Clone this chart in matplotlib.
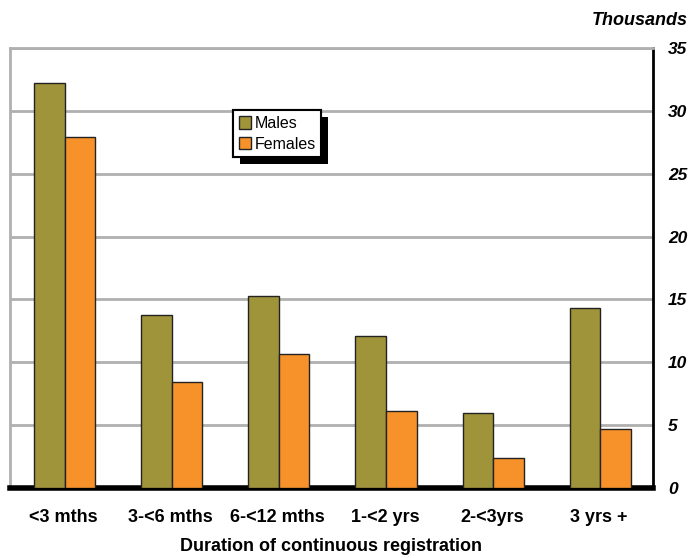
import numpy as np
import matplotlib.pyplot as plt
import matplotlib.patheffects as pe

plt.rcParams['font.family'] = ['Liberation Sans', 'DejaVu Sans']

# data (thousands)
categories = ['<3 mths', '3-<6 mths', '6-<12 mths', '1-<2 yrs', '2-<3yrs', '3 yrs +']
males = [32.2, 13.8, 15.3, 12.1, 6.0, 14.3]
females = [27.9, 8.4, 10.7, 6.1, 2.4, 4.7]
yticks = [0, 5, 10, 15, 20, 25, 30, 35]

fig = plt.figure(figsize=(6.9, 5.58), dpi=100)
ax = fig.add_axes([0.0145, 0.1254, 0.9315, 0.7886])

x = np.arange(len(categories))
w = 0.285
ax.bar(x - w / 2 + 0.01, males, w, color='#A0943A', edgecolor='#222222', linewidth=1, label='Males', zorder=3)
ax.bar(x + w / 2 + 0.01, females, w, color='#F7922A', edgecolor='#222222', linewidth=1, label='Females', zorder=3)

ax.set_xlim(-0.5, len(categories) - 0.5)
ax.set_ylim(0, 35)
ax.set_yticks(yticks)
ax.yaxis.tick_right()
ax.grid(axis='y', color='#b0b0b0', linewidth=2, zorder=0)
ax.tick_params(axis='y', length=0, pad=11)
ax.tick_params(axis='x', length=0, pad=15)
ax.set_xticks(x)
ax.set_xticklabels(categories, fontsize=13, fontweight='bold')
for lab in ax.get_yticklabels():
    lab.set_fontsize(12.5)
    lab.set_fontweight('bold')
    lab.set_fontstyle('italic')

ax.spines['left'].set_color('#b0b0b0')
ax.spines['left'].set_linewidth(2)
ax.spines['top'].set_color('#b0b0b0')
ax.spines['top'].set_linewidth(2)
ax.spines['right'].set_color('black')
ax.spines['right'].set_linewidth(2)
ax.spines['bottom'].set_color('black')
ax.spines['bottom'].set_linewidth(4)

ax.set_xlabel('Duration of continuous registration', fontsize=13, fontweight='bold', labelpad=9)
fig.text(0.997, 0.963, 'Thousands', ha='right', va='center', fontsize=13,
         fontweight='bold', fontstyle='italic')

leg = ax.legend(loc='upper left', bbox_to_anchor=(0.347, 0.858), fontsize=11.5,
                frameon=True, fancybox=False, edgecolor='black', handlelength=0.8,
                handleheight=0.8, handletextpad=0.2, borderpad=0.35, labelspacing=0.35,
                borderaxespad=0)
frame = leg.get_frame()
frame.set_linewidth(1.5)
frame.set_facecolor('white')
frame.set_alpha(1)
frame.set_path_effects([pe.withSimplePatchShadow(offset=(5, -5), shadow_rgbFace='black', alpha=1),
                        pe.Normal()])
leg.set_zorder(5)

fig.savefig('out.png', dpi=100)
